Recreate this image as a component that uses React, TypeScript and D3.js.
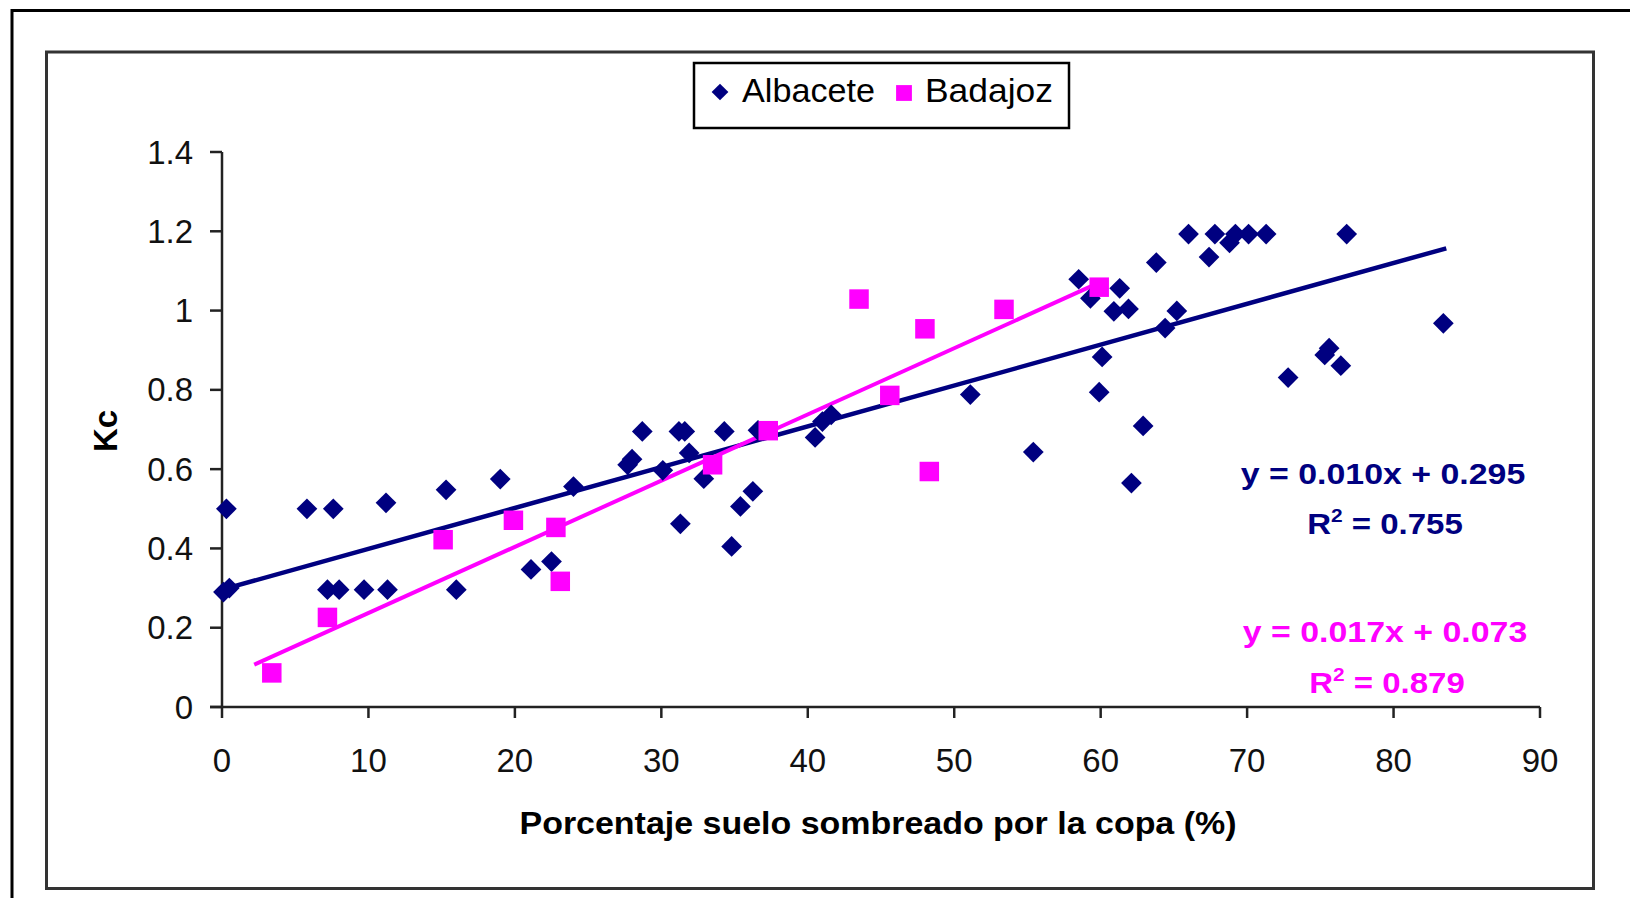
import * as d3 from "d3"

const albaceteX = [
  0.3, 0.1, 0.5, 5.8, 7.6, 11.2, 15.3, 19.0, 24.0, 27.7, 28.0, 7.2, 8.0, 9.7, 11.3, 16.0, 21.1, 22.5,
  28.7, 31.2, 31.6, 34.3, 36.6, 41.6, 41.0, 40.5, 31.9, 30.1, 32.9, 36.25, 35.4, 31.3, 34.8, 55.4, 51.1,
  58.5, 59.3, 61.3, 60.9, 61.9, 63.8, 66.0, 67.8, 67.4, 68.8, 69.2, 70.1, 71.3, 76.8, 65.2, 64.4, 60.1,
  59.9, 62.9, 62.1, 83.4, 75.6, 75.3, 76.4, 72.8,
]
const albaceteY = [
  0.5, 0.29, 0.3, 0.5, 0.5, 0.515, 0.548, 0.575, 0.556, 0.611, 0.625, 0.296, 0.296, 0.296, 0.296, 0.296,
  0.347, 0.367, 0.695, 0.695, 0.695, 0.695, 0.698, 0.737, 0.72, 0.68, 0.641, 0.597, 0.576, 0.544, 0.506,
  0.462, 0.405, 0.643, 0.788, 1.079, 1.031, 1.056, 0.998, 1.004, 1.121, 1.193, 1.193, 1.135, 1.171, 1.193,
  1.193, 1.193, 1.193, 0.999, 0.956, 0.883, 0.794, 0.709, 0.565, 0.968, 0.905, 0.888, 0.861, 0.831,
]

const badajozX = [3.4, 7.2, 15.1, 19.9, 22.8, 23.1, 33.5, 37.3, 43.5, 45.6, 48.0, 48.3, 53.4, 59.9]
const badajozY = [0.086, 0.226, 0.422, 0.471, 0.453, 0.317, 0.611, 0.697, 1.029, 0.786, 0.954, 0.594, 1.003, 1.059]

// slope, intercept of the drawn trendlines and the x span they cover
const albaceteTrend = [0.0103, 0.296]
const albaceteTrendSpan = [0, 83.6]
const badajozTrend = [0.0167, 0.07]
const badajozTrendSpan = [2.2, 59.9]

const seriesNames = ["Albacete", "Badajoz"]
const equations = ["y = 0.010x + 0.295", "y = 0.017x + 0.073"]
const rSquared = ["0.755", "0.879"]

const xTicks = [0, 10, 20, 30, 40, 50, 60, 70, 80, 90]
const yTicks = [0, 0.2, 0.4, 0.6, 0.8, 1, 1.2, 1.4]

const NAVY = "#000080"
const MAGENTA = "#FF00FF"
const FONT = "'Liberation Sans', Arial, sans-serif"

export default function App() {
  const x = d3.scaleLinear().domain([0, 90]).range([222, 1540])
  const y = d3.scaleLinear().domain([0, 1.4]).range([707, 152])

  const diamond = d3.symbol(d3.symbolSquare, 215)()
  const square = d3.symbol(d3.symbolSquare, 380)()
  const legendDiamond = d3.symbol(d3.symbolSquare, 140)()
  const legendSquare = d3.symbol(d3.symbolSquare, 250)()

  const trendLine = (coef: number[], span: number[]) =>
    d3
      .line<number>()
      .x((d) => x(d))
      .y((d) => y(coef[0] * d + coef[1]))(span) || ""

  const eqText = (cx: number, base: number, sx: number, color: string, content: any) => (
    <g transform={`translate(${cx},${base}) scale(${sx},1)`}>
      <text textAnchor="middle" fill={color} fontFamily={FONT} fontWeight="bold" fontSize={30}>
        {content}
      </text>
    </g>
  )

  return (
    <svg
      width={1630}
      height={898}
      style={{ position: "absolute", left: 0, top: 0, background: "#fff" }}
    >
      {/* outer frame */}
      <rect x={12} y={10.5} width={1640} height={900} fill="none" stroke="#000" strokeWidth={3} />
      {/* chart area */}
      <rect x={46.5} y={52} width={1547} height={836.5} fill="#fff" stroke="#333" strokeWidth={3} />

      {/* legend */}
      <rect x={694} y={63} width={375} height={65} fill="#fff" stroke="#000" strokeWidth={2.5} />
      <path d={legendDiamond} transform="translate(720,92) rotate(45)" fill={NAVY} />
      <text x={742} y={102} fontFamily={FONT} fontSize={33} fill="#000" textLength={133} lengthAdjust="spacingAndGlyphs">
        {seriesNames[0]}
      </text>
      <path d={legendSquare} transform="translate(904,93)" fill={MAGENTA} />
      <text x={925} y={102} fontFamily={FONT} fontSize={33} fill="#000" textLength={128} lengthAdjust="spacingAndGlyphs">
        {seriesNames[1]}
      </text>

      {/* axes */}
      <line x1={x(0)} x2={x(0)} y1={y(1.4)} y2={y(0)} stroke="#222" strokeWidth={2.5} />
      <line x1={x(0) - 12} x2={x(90)} y1={y(0)} y2={y(0)} stroke="#222" strokeWidth={2.5} />
      {yTicks.map((t) => (
        <g key={"y" + t}>
          <line x1={x(0) - 12} x2={x(0)} y1={y(t)} y2={y(t)} stroke="#222" strokeWidth={2.5} />
          <text
            x={193}
            y={y(t) + 11.5}
            textAnchor="end"
            fontFamily={FONT}
            fontSize={33}
            fill="#111"
          >
            {d3.format("~g")(t)}
          </text>
        </g>
      ))}
      {xTicks.map((t) => (
        <g key={"x" + t}>
          <line x1={x(t)} x2={x(t)} y1={y(0)} y2={y(0) + 11} stroke="#222" strokeWidth={2.5} />
          <text x={x(t)} y={772} textAnchor="middle" fontFamily={FONT} fontSize={33} fill="#111">
            {t}
          </text>
        </g>
      ))}

      <text
        x={878}
        y={834}
        textAnchor="middle"
        fontFamily={FONT}
        fontWeight="bold"
        fontSize={31}
        fill="#000"
        textLength={717}
        lengthAdjust="spacingAndGlyphs"
      >
        Porcentaje suelo sombreado por la copa (%)
      </text>
      <text
        transform="translate(117,431) rotate(-90)"
        textAnchor="middle"
        fontFamily={FONT}
        fontWeight="bold"
        fontSize={33}
        fill="#000"
      >
        Kc
      </text>

      {/* trendlines */}
      <path d={trendLine(albaceteTrend, albaceteTrendSpan)} stroke={NAVY} strokeWidth={4.5} fill="none" />
      <path d={trendLine(badajozTrend, badajozTrendSpan)} stroke={MAGENTA} strokeWidth={4} fill="none" />

      {/* points */}
      {albaceteX.map((v, i) => (
        <path
          key={"a" + i}
          d={diamond}
          transform={`translate(${x(v)},${y(albaceteY[i])}) rotate(45)`}
          fill={NAVY}
        />
      ))}
      {badajozX.map((v, i) => (
        <path key={"b" + i} d={square} transform={`translate(${x(v)},${y(badajozY[i])})`} fill={MAGENTA} />
      ))}

      {/* equations */}
      {eqText(1383, 484, 1.13, NAVY, equations[0])}
      {eqText(1385, 534, 1.1, NAVY, (
        <>
          R<tspan fontSize={19} dy={-12}>2</tspan>
          <tspan dy={12}> = {rSquared[0]}</tspan>
        </>
      ))}
      {eqText(1385, 642, 1.13, MAGENTA, equations[1])}
      {eqText(1387, 693, 1.1, MAGENTA, (
        <>
          R<tspan fontSize={19} dy={-12}>2</tspan>
          <tspan dy={12}> = {rSquared[1]}</tspan>
        </>
      ))}
    </svg>
  )
}
